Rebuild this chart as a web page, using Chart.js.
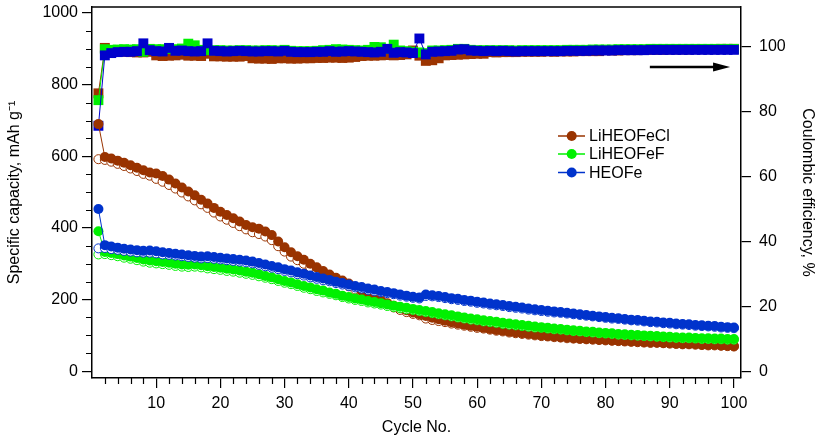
<!DOCTYPE html>
<html>
<head>
<meta charset="utf-8">
<script src="https://cdn.jsdelivr.net/npm/chart.js@4.4.0/dist/chart.umd.min.js"></script>
<style>
  html, body { margin: 0; padding: 0; background: #fff; }
</style>
</head>
<body>
<canvas id="chart" width="817" height="437"></canvas>
<script>
'use strict';

// cycle numbers
const cycles = [1,2,3,4,5,6,7,8,9,10,11,12,13,14,15,16,17,18,19,20,21,22,23,24,25,26,27,28,29,30,
  31,32,33,34,35,36,37,38,39,40,41,42,43,44,45,46,47,48,49,50,51,52,53,54,55,56,57,58,59,60,
  61,62,63,64,65,66,67,68,69,70,71,72,73,74,75,76,77,78,79,80,81,82,83,84,85,86,87,88,89,90,
  91,92,93,94,95,96,97,98,99,100];

// LiHEOFeCl
const clDischarge = [690,598,594,588,582,575,568,561,555,552,545,535,524,513,502,491,479,468,456,445,
  436,427,418,408,402,398,390,380,362,346,332,321,311,300,290,280,270,261,253,245,
  235,225,216,207,198,190,183,176,170,164,159,154,149,145,141,137,133,130,127,124,
  121,118,115,113,110,108,106,104,102,100,98,97,95,94,92,91,90,89,88,87,
  86,85,84,83,82,81,80,80,79,78,77,76,76,75,74,73,73,72,71,70];
const clCharge = [592,590,585,579,573,566,559,551,546,537,529,520,510,499,488,477,466,456,443,432,
  423,414,405,396,388,383,376,366,349,334,320,310,300,290,280,270,261,252,245,237,
  228,218,209,201,192,185,178,171,165,160,156,147,143,140,137,133,130,127,124,121,
  119,116,113,111,108,106,104,102,100,98,97,95,94,92,91,90,89,88,87,86,
  85,84,83,82,81,80,79,79,78,77,76,75,75,74,73,72,72,71,70,69];
const clCE = [85.6,99.6,98.4,98.5,98.4,98.3,98.2,98.2,98.4,97.3,97.1,97.2,97.3,97.5,97.2,97.2,97.1,97.8,97.0,97.0,
  96.9,96.9,96.9,97.1,96.4,96.3,96.3,96.2,96.4,96.4,96.3,96.3,96.4,96.4,96.5,96.5,96.6,96.6,96.5,96.6,
  96.8,97.1,97.2,97.2,97.3,97.4,97.3,97.4,97.6,98.8,97.2,95.6,95.8,96.4,97.3,97.4,97.5,97.6,97.7,97.8,
  97.8,98.3,98.2,98.3,98.3,98.3,98.4,98.4,98.4,98.4,98.5,98.4,98.5,98.5,98.5,98.6,98.6,98.6,98.6,98.9,
  98.8,98.8,98.9,98.9,98.9,99.0,99.0,99.0,99.0,99.1,99.1,99.1,99.1,99.2,99.2,99.2,99.2,99.3,99.3,99.3];

// LiHEOFeF
const fDischarge = [391,333,330,327,323,320,316,312,309,307,305,303,300,298,297,298,296,293,291,289,
  286,284,281,278,275,271,266,262,257,252,248,243,238,234,229,225,220,216,211,207,
  203,200,196,193,190,186,183,180,177,174,171,168,165,162,159,156,153,150,147,145,
  142,140,138,135,133,131,129,127,125,123,121,119,118,116,114,113,111,110,108,107,
  106,104,103,102,101,100,99,98,97,96,95,94,94,93,92,92,91,91,90,90];
const fCharge = [326,327,324,321,317,314,310,306,303,301,299,297,294,292,291,292,290,287,285,283,
  280,278,275,272,269,265,261,257,252,247,243,238,233,229,224,220,216,212,207,203,
  199,196,192,189,186,182,179,176,173,171,168,165,162,159,156,153,150,147,144,142,
  139,137,135,132,130,128,126,124,122,121,119,117,116,114,112,111,109,108,106,105,
  104,102,101,100,99,98,97,96,95,94,93,92,92,91,90,90,89,89,88,88];
const fCE = [83.5,99.2,99.0,99.1,99.2,99.1,99.2,98.4,99.3,99.2,99.2,99.3,99.2,99.4,100.9,100.4,99.0,98.9,98.9,98.9,
  98.8,98.8,98.9,98.9,98.8,98.8,98.9,98.9,98.8,99.0,98.7,98.6,98.6,98.6,98.7,98.9,99.0,99.2,99.1,99.0,
  98.9,98.8,99.0,99.9,99.8,99.3,100.6,98.8,98.6,98.4,98.2,98.0,98.8,98.8,98.9,99.0,99.3,99.3,99.0,98.9,
  98.9,98.9,98.9,98.9,98.9,98.8,98.9,98.9,98.9,98.9,98.9,98.9,98.9,99.0,99.0,99.0,99.0,99.1,99.1,99.1,
  99.1,99.2,99.2,99.2,99.2,99.2,99.3,99.3,99.3,99.3,99.3,99.3,99.3,99.3,99.3,99.3,99.3,99.3,99.3,99.3];

// HEOFe
const heDischarge = [453,352,348,345,342,340,338,336,337,335,332,330,328,326,324,322,320,321,319,317,
  315,313,311,309,306,302,298,294,290,285,281,276,272,267,263,259,255,250,246,242,
  238,235,231,228,224,221,218,214,211,208,206,214,212,210,207,204,202,199,197,194,
  192,189,187,185,182,180,178,175,173,171,169,167,165,163,161,159,157,155,153,151,
  149,148,146,144,143,141,139,138,136,135,133,132,131,129,128,127,126,124,123,122];
const heCharge = [343,344,341,339,336,334,332,331,331,329,326,325,323,321,319,317,315,316,314,312,
  310,308,306,304,301,297,293,289,285,280,276,271,267,262,258,254,251,246,242,238,
  234,231,227,224,221,218,215,211,208,205,203,210,209,207,204,201,199,196,194,191,
  189,186,184,182,179,177,175,172,170,168,166,164,163,161,159,157,155,153,151,149,
  147,146,144,142,141,139,137,136,134,133,131,130,129,127,126,125,124,122,121,120];
const heCE = [75.6,97.3,98.0,98.3,98.4,98.4,98.6,101.0,98.9,98.6,98.5,99.6,98.7,98.8,98.6,98.5,98.6,101.0,98.7,98.6,
  98.5,98.6,98.7,98.6,98.5,98.5,98.6,98.6,98.5,98.7,98.4,98.3,98.3,98.3,98.4,98.4,98.6,98.4,98.5,98.6,
  98.5,98.4,98.3,98.2,98.4,99.3,98.1,98.3,98.2,98.0,102.5,97.6,98.4,98.5,98.6,98.7,99.1,99.2,98.8,98.7,
  98.6,98.7,98.6,98.7,98.6,98.5,98.6,98.6,98.6,98.6,98.6,98.6,98.6,98.7,98.7,98.7,98.7,98.8,98.8,98.8,
  98.8,98.9,98.9,98.9,98.9,98.9,99.0,99.0,99.0,99.0,99.0,99.0,99.0,99.0,99.0,99.0,99.0,99.0,99.0,99.0];

const seriesNames = ['LiHEOFeCl', 'LiHEOFeF', 'HEOFe'];
const xTicks = [10, 20, 30, 40, 50, 60, 70, 80, 90, 100];
const capTicks = [0, 200, 400, 600, 800, 1000];
const ceTicks = [0, 20, 40, 60, 80, 100];

const BROWN = '#993300';
const GREEN = '#00f000';
const BLUE = '#0033cc';
const BLUE_SQ = '#0000cc';
const FONT = '"Liberation Sans", Arial, sans-serif';

function pts(arr) {
  return cycles.map((c, i) => ({ x: c, y: arr[i] }));
}

function ceSet(arr, color, order) {
  return {
    data: pts(arr), yAxisID: 'yR', order: order,
    borderColor: color, borderWidth: 1, backgroundColor: color,
    pointStyle: 'rect', pointRadius: 7, pointBorderWidth: 0,
    pointBackgroundColor: color
  };
}
function fillSet(arr, color, order) {
  return {
    data: pts(arr), yAxisID: 'y', order: order,
    borderColor: color, borderWidth: 1, backgroundColor: color,
    pointStyle: 'circle', pointRadius: 5, pointBorderWidth: 0,
    pointBackgroundColor: color
  };
}
function openSet(arr, color, order) {
  return {
    data: pts(arr), yAxisID: 'y', order: order, showLine: false,
    borderColor: color, backgroundColor: '#fff',
    pointStyle: 'circle', pointRadius: 4.5, pointBorderWidth: 1,
    pointBorderColor: color, pointBackgroundColor: '#fff'
  };
}

// fixed ticks, no edge padding so the plot box keeps its size
function fixTicks(list) {
  return function (s) { s.ticks = list.map((v) => ({ value: v })); };
}
function noPad(s) {
  s.paddingTop = 0; s.paddingBottom = 0; s.paddingLeft = 0; s.paddingRight = 0;
}

const decor = {
  id: 'decor',
  afterDraw(chart) {
    const { ctx, chartArea: a, scales } = chart;
    const x = scales.x, yL = scales.y, yR = scales.yR;
    ctx.save();
    ctx.strokeStyle = '#000';
    ctx.lineWidth = 1.5;
    ctx.beginPath();
    ctx.moveTo(a.left, a.top);
    ctx.lineTo(a.right, a.top);
    ctx.stroke();

    // minor ticks
    ctx.lineWidth = 1.2;
    ctx.beginPath();
    for (let v = 2; v < 100; v += 2) {
      if (v % 10 === 0) continue;
      const px = Math.round(x.getPixelForValue(v)) + 0.5;
      ctx.moveTo(px, a.bottom);
      ctx.lineTo(px, a.bottom + 6);
    }
    for (let v = 50; v < 1000; v += 50) {
      if (v % 200 === 0) continue;
      const py = Math.round(yL.getPixelForValue(v)) + 0.5;
      ctx.moveTo(a.left, py);
      ctx.lineTo(a.left - 6, py);
    }
    ctx.stroke();

    // arrow pointing to the right axis
    const ax0 = x.getPixelForValue(86.9), ax1 = x.getPixelForValue(99.4);
    const ay = yR.getPixelForValue(93.7);
    ctx.lineWidth = 2.5;
    ctx.beginPath();
    ctx.moveTo(ax0, ay);
    ctx.lineTo(ax1 - 12, ay);
    ctx.stroke();
    ctx.fillStyle = '#000';
    ctx.beginPath();
    ctx.moveTo(ax1, ay);
    ctx.lineTo(ax1 - 17, ay - 4.5);
    ctx.lineTo(ax1 - 17, ay + 4.5);
    ctx.closePath();
    ctx.fill();

    // legend
    const colors = [BROWN, GREEN, BLUE];
    const rows = [136, 154, 172.5];
    ctx.font = '16px ' + FONT;
    ctx.textBaseline = 'middle';
    for (let i = 0; i < seriesNames.length; i++) {
      const y = rows[i];
      ctx.strokeStyle = colors[i];
      ctx.lineWidth = 1.5;
      ctx.beginPath();
      ctx.moveTo(558, y);
      ctx.lineTo(585, y);
      ctx.stroke();
      ctx.fillStyle = colors[i];
      ctx.beginPath();
      ctx.arc(571.7, y, 5, 0, Math.PI * 2);
      ctx.fill();
      ctx.fillStyle = '#000';
      ctx.fillText(seriesNames[i], 589, y + 1);
    }
    ctx.restore();
  }
};

const data = {
  datasets: [
    ceSet(clCE, '#9c3400', 30),
    ceSet(fCE, GREEN, 20),
    ceSet(heCE, BLUE_SQ, 10),
    openSet(clCharge, BROWN, 6),
    fillSet(clDischarge, BROWN, 5),
    openSet(fCharge, GREEN, 4),
    fillSet(fDischarge, GREEN, 3),
    openSet(heCharge, BLUE, 2),
    fillSet(heDischarge, BLUE, 1)
  ]
};

const tickFont = { family: FONT, size: 16 };
const config = {
  type: 'line',
  data: data,
  options: {
    responsive: false,
    animation: false,
    layout: { padding: { top: 2, left: 0, right: 0, bottom: 0 } },
    plugins: { legend: { display: false }, tooltip: { enabled: false } },
    scales: {
      x: {
        type: 'linear', position: 'bottom', min: 0, max: 101.1,
        afterBuildTicks: fixTicks(xTicks),
        afterFit(s) { s.height = 59; noPad(s); },
        border: { display: true, color: '#000', width: 1.5 },
        grid: { drawOnChartArea: false, drawTicks: true, tickLength: 10, color: '#000', lineWidth: 1.2 },
        ticks: { maxRotation: 0, autoSkip: false, padding: 6, color: '#000', font: tickFont,
          callback: (v) => String(v) },
        title: { display: true, text: 'Cycle No.', color: '#000', font: tickFont, padding: { top: 0, bottom: 0 } }
      },
      y: {
        type: 'linear', position: 'left', min: -19, max: 1017,
        afterBuildTicks: fixTicks(capTicks),
        afterFit(s) { s.width = 92; noPad(s); },
        border: { display: true, color: '#000', width: 1.5 },
        grid: { drawOnChartArea: false, drawTicks: true, tickLength: 10, color: '#000', lineWidth: 1.2 },
        ticks: { padding: 4, color: '#000', font: tickFont, callback: (v) => String(v) },
        title: { display: true, text: 'Specific capacity, mAh g\u207B\u00B9', color: '#000', font: tickFont,
          padding: { top: 5, bottom: 0 } }
      },
      yR: {
        type: 'linear', position: 'right', min: -2.1, max: 112.2,
        afterBuildTicks: fixTicks(ceTicks),
        afterFit(s) { s.width = 76; noPad(s); },
        border: { display: true, color: '#000', width: 1.5 },
        grid: { drawOnChartArea: false, drawTicks: true, tickLength: 10, color: '#000', lineWidth: 1.2 },
        ticks: { padding: 8, color: '#000', font: tickFont, callback: (v) => String(v) },
        title: { display: true, text: 'Coulombic efficiency, %', color: '#000', font: tickFont,
          padding: { top: 0, bottom: 0 } }
      }
    }
  },
  plugins: [decor]
};

const chartElem = document.getElementById('chart');
const capacityChart = new Chart(chartElem, config);
</script>
</body>
</html>
